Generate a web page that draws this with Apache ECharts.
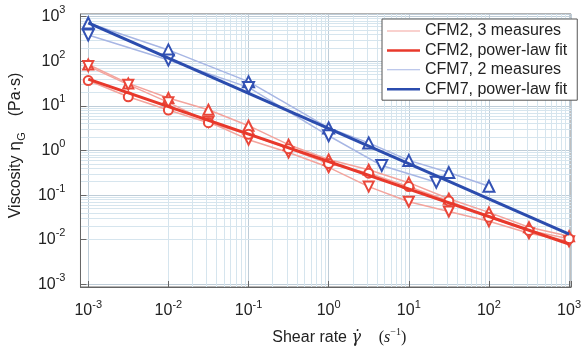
<!DOCTYPE html>
<html>
<head>
<meta charset="utf-8">
<script src="https://cdn.jsdelivr.net/npm/echarts@6/dist/echarts.min.js"></script>
<style>
html,body{margin:0;padding:0;background:#fff;}
#chart{width:584px;height:351px;}
</style>
</head>
<body>
<div id="chart"></div>
<script>
// ---- data ----
const shearRates = [0.001, 0.00316, 0.01, 0.0316, 0.1, 0.316, 1, 3.16, 10, 31.6, 100, 316, 1000];
const cfm2MeasureUp = [85, 32, 15, 8.2, 3.6, 1.35, 0.63, 0.37, 0.19, 0.083, 0.041, 0.019, 0.012];
const cfm2MeasureDown = [78, 30, 12, 4.4, 1.75, 0.9, 0.42, 0.155, 0.071, 0.043, 0.026, 0.014, 0.0092];
const cfm2MeasureCircle = [37, 16, 8.1, 4.2, 2.3, 1.1, 0.51, 0.31, 0.155, 0.074, 0.032, 0.016, 0.0105];
const cfm7RatesA = [0.001, 0.01, 0.1, 1, 3.16, 10, 31.6, 100];
const cfm7MeasureA = [725, 180, 35, 3.2, 1.48, 0.6, 0.32, 0.158];
const cfm7RatesB = [0.001, 0.01, 0.1, 1, 4.6, 22];
const cfm7MeasureB = [390, 107, 26, 2.14, 0.46, 0.195];
const fitRates = [0.001, 1000];
const cfm2Fit = [40, 0.008];
const cfm7Fit = [725, 0.0133];
const tickExponents = [-3, -2, -1, 0, 1, 2, 3];
const legendNames = ['CFM2, 3 measures', 'CFM2, power-law fit', 'CFM7, 2 measures', 'CFM7, power-law fit'];

// ---- styling ----
const C2_LIGHT = '#f3a49d', C2_MARK = '#e9473a', C2_FIT = '#e8382b';
const C7_LIGHT = '#a7b6e4', C7_MARK = '#3352b4', C7_FIT = '#2b4cae';
const FONT = '"Liberation Sans", Arial, sans-serif';

function pairs(xs, ys) { return xs.map((x, i) => [x, ys[i]]); }

function powLabel(v) {
  const e = Math.log10(v), n = Math.round(e);
  if (Math.abs(e - n) > 1e-6 || tickExponents.indexOf(n) < 0) return '';
  return '{b|10}{s|' + n + '}';
}
const richLabel = {
  b: { fontSize: 16, lineHeight: 24, fontFamily: FONT, color: '#222' },
  s: { fontSize: 11, lineHeight: 10, verticalAlign: 'top', fontFamily: FONT, color: '#222' }
};

// minor grid values (2..9 x 10^n)
const xMinor = [], yMinor = [];
for (let n = -4; n <= 3; n++) {
  for (let k = 2; k <= 9; k++) {
    const v = k * Math.pow(10, n);
    if (v > 0.0008 && v < 1060) xMinor.push(v);
    if (v > 0.00087 && v < 1150) yMinor.push(v);
  }
}

function measureSeries(name, xs, ys, light, mark, symbol, rotate, size) {
  return {
    name: name, type: 'line', data: pairs(xs, ys), z: 3,
    symbol: symbol, symbolSize: size, symbolRotate: rotate,
    lineStyle: { color: light, width: 1.5 },
    itemStyle: { color: mark, borderWidth: 1.8 },
    emphasis: { disabled: true }, animation: false
  };
}
function fitSeries(name, ys, color) {
  return {
    name: name, type: 'line', data: pairs(fitRates, ys), z: 4,
    symbol: 'none', lineStyle: { color: color, width: 3 },
    itemStyle: { color: color }, emphasis: { disabled: true }, animation: false
  };
}

const chart = echarts.init(document.getElementById('chart'), null, { renderer: 'canvas' });
chart.setOption({
  backgroundColor: '#fff',
  animation: false,
  grid: { left: 75, right: 10, top: 14, bottom: 63, show: true, borderColor: '#666', borderWidth: 1, backgroundColor: 'transparent' },
  xAxis: {
    type: 'log', logBase: 10, min: 0.0008, max: 1060,
    axisLine: { show: true, lineStyle: { color: '#666' } },
    axisTick: { show: true, inside: true, length: 6, lineStyle: { color: '#666' } },
    splitLine: { show: true, lineStyle: { color: '#bfcdd8', width: 1 } },
    axisLabel: { formatter: powLabel, rich: richLabel, margin: 12, showMinLabel: false, showMaxLabel: true },
    name: '{t|Shear rate }{g|γ̇}{t|    }{p|(}{v|s}{sup|−1}{p|)}',
    nameLocation: 'middle', nameGap: 40,
    nameTextStyle: {
      padding: [0, 0, 0, 27],
      rich: {
        t: { fontSize: 16, fontFamily: FONT, color: '#222', lineHeight: 22 },
        g: { fontSize: 16, fontFamily: '"DejaVu Serif", serif', fontStyle: 'italic', color: '#222', lineHeight: 22 },
        p: { fontSize: 16, fontFamily: '"Liberation Serif", serif', color: '#222', lineHeight: 22 },
        v: { fontSize: 16, fontFamily: '"Liberation Serif", serif', fontStyle: 'italic', color: '#222', lineHeight: 22 },
        sup: { fontSize: 10, fontFamily: '"Liberation Serif", serif', color: '#222', lineHeight: 12, verticalAlign: 'top' }
      }
    }
  },
  yAxis: {
    type: 'log', logBase: 10, min: 0.00087, max: 1150,
    axisLine: { show: true, lineStyle: { color: '#666' } },
    axisTick: { show: true, inside: true, length: 6, lineStyle: { color: '#666' } },
    splitLine: { show: true, lineStyle: { color: '#bfcdd8', width: 1 } },
    axisLabel: { formatter: powLabel, rich: richLabel, margin: 15, showMinLabel: false, showMaxLabel: false },
    name: '{a|Viscosity }{e|η}{sub|G}{gap|}{a|(Pa·s)}',
    nameLocation: 'middle', nameGap: 50, nameRotate: 90,
    nameTextStyle: {
      padding: [0, 0, 0, 10],
      rich: {
        a: { fontSize: 16, fontFamily: FONT, color: '#222', lineHeight: 22 },
        e: { fontSize: 16, fontFamily: '"DejaVu Sans", sans-serif', color: '#222', lineHeight: 22 },
        sub: { fontSize: 11, fontFamily: FONT, color: '#222', lineHeight: 10, verticalAlign: 'bottom' },
        gap: { width: 16, lineHeight: 22 }
      }
    }
  },
  legend: {
    orient: 'vertical', left: 382, top: 19, align: 'left', z: 20,
    backgroundColor: '#fff', borderColor: '#555', borderWidth: 1, borderRadius: 0,
    padding: [4, 10, 3, 5],
    itemWidth: 33, itemHeight: 14, itemGap: 3.4,
    symbolKeepAspect: true,
    selectedMode: false,
    textStyle: { fontSize: 16, fontFamily: FONT, color: '#222', lineHeight: 16 },
    data: [
      { name: legendNames[0], icon: 'path://M0,0H40V1.2H0Z', itemStyle: { color: C2_LIGHT, borderWidth: 0 } },
      { name: legendNames[1], icon: 'path://M0,0H40V3H0Z', itemStyle: { color: C2_FIT, borderWidth: 0 } },
      { name: legendNames[2], icon: 'path://M0,0H40V1.2H0Z', itemStyle: { color: C7_LIGHT, borderWidth: 0 } },
      { name: legendNames[3], icon: 'path://M0,0H40V3H0Z', itemStyle: { color: C7_FIT, borderWidth: 0 } }
    ]
  },
  series: [
    {
      name: 'minor-grid', type: 'line', data: [], z: 0, silent: true,
      markLine: {
        z: 0, silent: true, symbol: ['none', 'none'], label: { show: false }, animation: false,
        lineStyle: { color: '#d6e5ee', width: 1, type: 'solid' },
        emphasis: { disabled: true },
        data: xMinor.map(v => ({ xAxis: v })).concat(yMinor.map(v => ({ yAxis: v })))
      }
    },
    measureSeries(legendNames[0], shearRates, cfm2MeasureUp, C2_LIGHT, C2_MARK, 'emptyTriangle', 0, 10),
    measureSeries(legendNames[0], shearRates, cfm2MeasureDown, C2_LIGHT, C2_MARK, 'emptyTriangle', 180, 10),
    measureSeries(legendNames[0], shearRates, cfm2MeasureCircle, C2_LIGHT, C2_MARK, 'emptyCircle', 0, 9),
    fitSeries(legendNames[1], cfm2Fit, C2_FIT),
    measureSeries(legendNames[2], cfm7RatesA, cfm7MeasureA, C7_LIGHT, C7_MARK, 'emptyTriangle', 0, 11),
    measureSeries(legendNames[2], cfm7RatesB, cfm7MeasureB, C7_LIGHT, C7_MARK, 'emptyTriangle', 180, 11),
    fitSeries(legendNames[3], cfm7Fit, C7_FIT)
  ]
});
</script>
</body>
</html>
